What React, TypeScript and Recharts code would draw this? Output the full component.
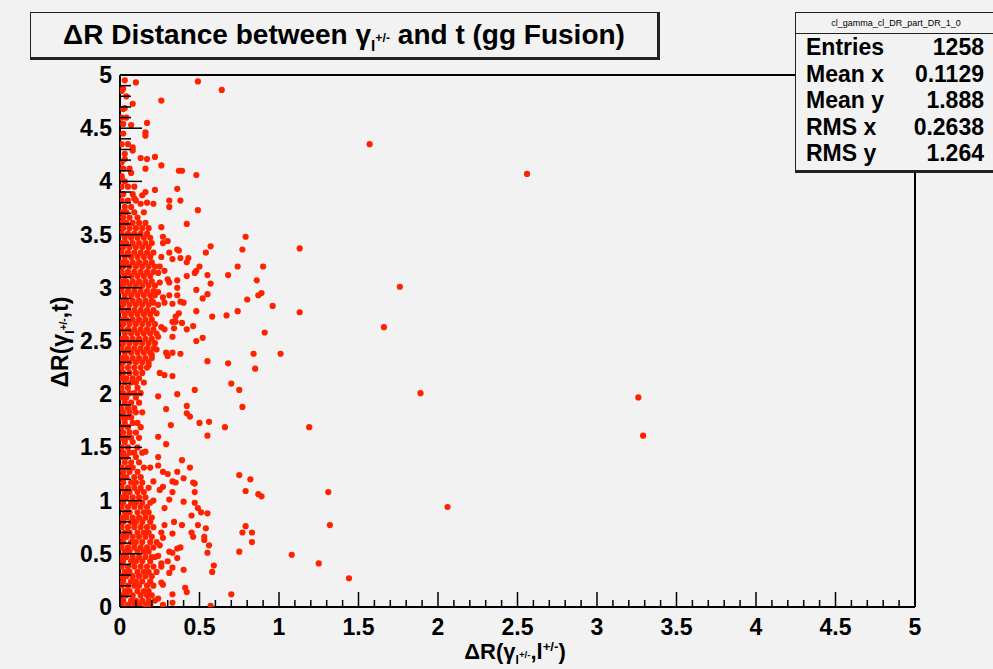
import React from 'react';
import { ScatterChart, Scatter, XAxis, YAxis, ReferenceLine } from 'recharts';

// isolated points, [dR(gamma,l), dR(gamma,t)]
const sparsePoints: number[][] = [
  [0.49, 4.94], [0.64, 4.86], [0.10, 4.93], [0.02, 4.87], [0.04, 4.80], [0.26, 4.76], [0.08, 4.73],
  [0.03, 4.69], [0.17, 4.55], [0.02, 4.54], [0.07, 4.53], [0.16, 4.46], [0.16, 4.43], [0.08, 4.32],
  [0.08, 4.29], [0.13, 4.22], [0.17, 4.21], [0.22, 4.23], [0.03, 4.21], [0.26, 4.15], [0.16, 4.12],
  [0.37, 4.10], [0.39, 4.10], [0.48, 4.06], [0.07, 4.08], [0.01, 4.04], [0.09, 3.95], [0.22, 3.92],
  [0.36, 3.93], [0.16, 3.90], [0.14, 3.87], [0.09, 3.84], [0.31, 3.82], [0.31, 3.76], [0.38, 3.82],
  [0.13, 3.79], [0.17, 3.80], [0.21, 3.79], [0.49, 3.73], [0.42, 3.60], [0.26, 3.57], [0.79, 3.48],
  [0.57, 3.39], [0.77, 3.36], [1.13, 3.37], [0.27, 3.48], [0.30, 3.44], [0.27, 3.42], [0.36, 3.36],
  [1.57, 4.35], [2.56, 4.07], [1.76, 3.01], [1.66, 2.63], [1.89, 2.01], [3.26, 1.97], [3.29, 1.61],
  [2.06, 0.94], [1.31, 1.08], [1.32, 0.77], [1.25, 0.41], [1.44, 0.27],
  [0.54, 3.33], [0.37, 3.35], [0.31, 3.33], [0.26, 3.29], [0.33, 3.27], [0.38, 3.28], [0.43, 3.28],
  [0.42, 3.24], [0.90, 3.20], [0.74, 3.20], [0.50, 3.20], [0.48, 3.16], [0.25, 3.20], [0.28, 3.16],
  [0.24, 3.14], [0.47, 3.14], [0.42, 3.11], [0.55, 3.12], [0.68, 3.12], [0.36, 3.07], [0.30, 3.08],
  [0.31, 3.05], [0.86, 3.07], [0.57, 3.04], [0.25, 3.05], [0.24, 2.96], [0.36, 3.00], [0.48, 2.98],
  [0.89, 2.95], [0.87, 2.93], [0.31, 2.93], [0.36, 2.93], [0.27, 2.91], [0.55, 2.94], [0.52, 2.90],
  [0.80, 2.89], [0.38, 2.87], [0.40, 2.86], [0.21, 2.86], [0.28, 2.86], [0.33, 2.85], [0.96, 2.83],
  [0.23, 2.76], [0.48, 2.78], [0.74, 2.78], [0.37, 2.76], [0.35, 2.73], [1.13, 2.77], [0.67, 2.74],
  [0.58, 2.73], [0.33, 2.68], [0.39, 2.67], [0.35, 2.68], [0.26, 2.63], [0.28, 2.61], [0.34, 2.62],
  [0.42, 2.61], [0.46, 2.64], [0.91, 2.58], [0.24, 2.54], [0.33, 2.54], [0.52, 2.53], [0.48, 2.50],
  [0.23, 2.42], [0.29, 2.39], [0.30, 2.36], [0.33, 2.39], [0.38, 2.38], [0.20, 2.37], [0.84, 2.38],
  [1.01, 2.38], [0.55, 2.31], [0.68, 2.29], [0.85, 2.24], [0.18, 2.27], [0.25, 2.20], [0.28, 2.18],
  [0.33, 2.17], [0.70, 2.10], [0.75, 2.04], [0.24, 1.98], [0.36, 2.00], [0.47, 2.04], [0.77, 1.88],
  [0.42, 1.89], [0.42, 1.82], [0.44, 1.79], [0.29, 1.86], [0.32, 1.71], [0.50, 1.73], [0.56, 1.74],
  [0.66, 1.69], [1.19, 1.69],
  [0.55, 1.61], [0.24, 1.60], [0.29, 1.53], [0.16, 1.46], [0.24, 1.41], [0.39, 1.38], [0.44, 1.31],
  [0.24, 1.33], [0.19, 1.31], [0.36, 1.27], [0.27, 1.27], [0.30, 1.25], [0.33, 1.18], [0.35, 1.17],
  [0.40, 1.21], [0.46, 1.17], [0.47, 1.16], [0.75, 1.24], [0.82, 1.20], [0.21, 1.18], [0.27, 1.13],
  [0.25, 1.10], [0.33, 1.08], [0.79, 1.09], [0.47, 1.08], [0.87, 1.06], [0.89, 1.04], [0.31, 1.01],
  [0.40, 0.99], [0.47, 0.98], [0.21, 1.00], [0.28, 0.93], [0.49, 0.93], [0.51, 0.89], [0.55, 0.88],
  [0.45, 0.86], [0.34, 0.80], [0.39, 0.77], [0.28, 0.77], [0.49, 0.77], [0.54, 0.74], [0.79, 0.76],
  [0.77, 0.70], [0.83, 0.70], [0.45, 0.70], [0.46, 0.66], [0.33, 0.69], [0.26, 0.70], [0.27, 0.65],
  [0.53, 0.66], [0.53, 0.63], [0.83, 0.61], [0.25, 0.58], [0.56, 0.58], [0.36, 0.55], [0.38, 0.56],
  [0.31, 0.52], [0.33, 0.51], [0.55, 0.51], [0.75, 0.52], [1.08, 0.49], [0.24, 0.48], [0.36, 0.46],
  [0.30, 0.43], [0.26, 0.41], [0.26, 0.38], [0.59, 0.39], [0.58, 0.33], [0.33, 0.37], [0.31, 0.32],
  [0.40, 0.35], [0.26, 0.23], [0.27, 0.21], [0.41, 0.18], [0.42, 0.14], [0.33, 0.12], [0.70, 0.12],
  [0.24, 0.08], [0.27, 0.02], [0.33, 0.04], [0.57, 0.01],
];

// the packed band near x = 0, one row per y value: [y, x values...]
const denseRows: number[][] = [
  [0.02, 0.01, 0.05, 0.09, 0.12, 0.16, 0.19], [0.06, 0.02, 0.07, 0.10, 0.14, 0.18, 0.22],
  [0.11, 0.01, 0.04, 0.08, 0.13, 0.17, 0.20], [0.15, 0.03, 0.06, 0.11, 0.15, 0.18],
  [0.20, 0.01, 0.05, 0.09, 0.12, 0.17, 0.21], [0.24, 0.02, 0.07, 0.10, 0.14, 0.19],
  [0.29, 0.01, 0.04, 0.08, 0.12, 0.16, 0.20], [0.33, 0.03, 0.06, 0.11, 0.15, 0.18, 0.23],
  [0.38, 0.01, 0.05, 0.09, 0.13, 0.17, 0.21], [0.43, 0.02, 0.07, 0.10, 0.14, 0.19],
  [0.47, 0.01, 0.04, 0.08, 0.12, 0.16, 0.20, 0.22], [0.52, 0.03, 0.06, 0.11, 0.15, 0.18],
  [0.56, 0.01, 0.05, 0.09, 0.13, 0.17, 0.21], [0.61, 0.02, 0.07, 0.10, 0.14, 0.19, 0.23],
  [0.66, 0.01, 0.04, 0.08, 0.12, 0.16, 0.20], [0.70, 0.03, 0.06, 0.11, 0.15, 0.18],
  [0.75, 0.01, 0.05, 0.09, 0.13, 0.17, 0.21], [0.80, 0.02, 0.07, 0.10, 0.14, 0.19],
  [0.84, 0.01, 0.04, 0.08, 0.12, 0.16, 0.20], [0.89, 0.03, 0.06, 0.11, 0.15, 0.18],
  [0.94, 0.01, 0.05, 0.09, 0.13, 0.17], [0.98, 0.02, 0.07, 0.10, 0.14, 0.19],
  [1.03, 0.01, 0.04, 0.08, 0.12, 0.16], [1.08, 0.03, 0.06, 0.11, 0.15],
  [1.12, 0.01, 0.05, 0.09, 0.13, 0.18], [1.17, 0.02, 0.07, 0.10, 0.14],
  [1.22, 0.01, 0.04, 0.09, 0.13], [1.27, 0.02, 0.06, 0.11], [1.31, 0.01, 0.05, 0.08, 0.15],
  [1.36, 0.03, 0.07, 0.12], [1.41, 0.01, 0.04, 0.10], [1.45, 0.02, 0.06, 0.09, 0.14],
  [1.50, 0.01, 0.05, 0.11], [1.55, 0.03, 0.08], [1.59, 0.01, 0.04, 0.07, 0.12],
  [1.64, 0.02, 0.06, 0.10], [1.69, 0.01, 0.05, 0.13], [1.73, 0.03, 0.08, 0.11],
  [1.78, 0.01, 0.04, 0.07], [1.83, 0.02, 0.06, 0.10, 0.14], [1.87, 0.01, 0.05, 0.09],
  [1.92, 0.03, 0.07, 0.12], [1.97, 0.01, 0.04, 0.10], [2.01, 0.02, 0.06, 0.09, 0.13],
  [2.06, 0.01, 0.05, 0.11], [2.11, 0.03, 0.07, 0.10, 0.15], [2.15, 0.01, 0.04, 0.08, 0.12],
  [2.20, 0.02, 0.06, 0.10, 0.14], [2.25, 0.01, 0.05, 0.09, 0.13, 0.17],
  [2.30, 0.02, 0.06, 0.10, 0.14, 0.18], [2.34, 0.01, 0.04, 0.08, 0.12, 0.16, 0.20],
  [2.39, 0.03, 0.07, 0.11, 0.15, 0.19], [2.43, 0.01, 0.05, 0.09, 0.13, 0.17, 0.21],
  [2.48, 0.02, 0.06, 0.10, 0.14, 0.18, 0.22], [2.52, 0.01, 0.04, 0.08, 0.12, 0.16, 0.20],
  [2.57, 0.03, 0.07, 0.11, 0.15, 0.19, 0.23], [2.61, 0.01, 0.05, 0.09, 0.13, 0.17, 0.21],
  [2.66, 0.02, 0.06, 0.10, 0.14, 0.18, 0.22], [2.70, 0.01, 0.04, 0.08, 0.12, 0.16, 0.20],
  [2.75, 0.03, 0.07, 0.11, 0.15, 0.19], [2.79, 0.01, 0.05, 0.09, 0.13, 0.17, 0.21],
  [2.84, 0.02, 0.06, 0.10, 0.14, 0.18, 0.24], [2.88, 0.01, 0.04, 0.08, 0.12, 0.16, 0.20],
  [2.93, 0.03, 0.07, 0.11, 0.15, 0.19, 0.22], [2.97, 0.01, 0.05, 0.09, 0.13, 0.17, 0.21],
  [3.02, 0.02, 0.06, 0.10, 0.14, 0.18, 0.22], [3.06, 0.01, 0.04, 0.08, 0.12, 0.16, 0.20],
  [3.11, 0.03, 0.07, 0.11, 0.15, 0.19], [3.15, 0.01, 0.05, 0.09, 0.13, 0.17, 0.21],
  [3.20, 0.02, 0.06, 0.10, 0.14, 0.18, 0.22], [3.24, 0.01, 0.04, 0.08, 0.12, 0.16, 0.20],
  [3.29, 0.03, 0.07, 0.11, 0.15, 0.19], [3.33, 0.01, 0.05, 0.09, 0.13, 0.17, 0.21],
  [3.38, 0.02, 0.06, 0.10, 0.14, 0.18], [3.42, 0.01, 0.04, 0.08, 0.12, 0.16, 0.20],
  [3.47, 0.03, 0.07, 0.11, 0.15, 0.19], [3.51, 0.01, 0.05, 0.09, 0.13, 0.17],
  [3.56, 0.02, 0.06, 0.10, 0.14, 0.18], [3.61, 0.01, 0.04, 0.08, 0.12, 0.16],
  [3.66, 0.02, 0.06, 0.11], [3.71, 0.01, 0.04, 0.09, 0.15], [3.76, 0.03, 0.07],
  [3.82, 0.01, 0.05, 0.10], [3.88, 0.02, 0.08], [3.95, 0.01, 0.05], [4.00, 0.03], [4.05, 0.01],
  [4.12, 0.02, 0.06], [4.18, 0.01], [4.26, 0.03], [4.35, 0.01, 0.05], [4.45, 0.02],
  [4.60, 0.01, 0.04], [4.68, 0.02], [4.85, 0.01], [4.95, 0.03],
];

const majorTicks = [0, 0.5, 1, 1.5, 2, 2.5, 3, 3.5, 4, 4.5, 5];
const allTicks = Array.from({ length: 51 }, (_, i) => i / 10);

const statsRows = [
  ['Entries', '1258'],
  ['Mean x', '0.1129'],
  ['Mean y', '1.888'],
  ['RMS x', '0.2638'],
  ['RMS y', '1.264'],
];

const points = [
  ...sparsePoints.map(([x, y]) => ({ x, y })),
  ...denseRows.flatMap(([y, ...xs]) => xs.map((x) => ({ x, y }))),
];

const FONT = '"Liberation Sans", Arial, sans-serif';
const isMajor = (v: number) => majorTicks.some((m) => Math.abs(m - v) < 1e-6);
const fmt = (v: number) => String(Number(v.toFixed(1)));

const XTick = (props: any) => {
  const { x, y, payload } = props;
  const major = isMajor(payload.value);
  return (
    <g>
      <line x1={x} x2={x} y1={y} y2={y - (major ? 15 : 7)} stroke="#000" strokeWidth={1.5} />
      {major && (
        <text x={x} y={y + 28} textAnchor="middle" fontFamily={FONT} fontWeight="bold" fontSize={23} fill="#000">
          {fmt(payload.value)}
        </text>
      )}
    </g>
  );
};

const YTick = (props: any) => {
  const { x, y, payload } = props;
  const major = isMajor(payload.value);
  return (
    <g>
      <line x1={x} x2={x + (major ? 22 : 11)} y1={y} y2={y} stroke="#000" strokeWidth={1.5} />
      {major && (
        <text x={x - 8} y={y + 8} textAnchor="end" fontFamily={FONT} fontWeight="bold" fontSize={23} fill="#000">
          {fmt(payload.value)}
        </text>
      )}
    </g>
  );
};

const Dot = (p: any) => <circle cx={p.cx} cy={p.cy} r={3.1} fill="#ff2200" />;

const subStyle: React.CSSProperties = { fontSize: '0.55em', position: 'relative', top: '0.45em' };
const supStyle: React.CSSProperties = { fontSize: '0.8em', position: 'relative', top: '-0.7em' };

export default function App() {
  return (
    <div style={{ position: 'absolute', left: 0, top: 0, width: 993, height: 669, background: '#f2f2f2', fontFamily: FONT, overflow: 'hidden' }}>
      <ScatterChart width={993} height={669} margin={{ top: 75, right: 78, bottom: 22, left: 60 }}>
        <XAxis
          type="number"
          dataKey="x"
          domain={[0, 5]}
          ticks={allTicks}
          interval={0}
          tick={<XTick />}
          tickLine={false}
          tickSize={0}
          tickMargin={0}
          height={40}
          axisLine={{ stroke: '#000', strokeWidth: 2 }}
          allowDataOverflow
        />
        <YAxis
          type="number"
          dataKey="y"
          domain={[0, 5]}
          ticks={allTicks}
          interval={0}
          tick={<YTick />}
          tickLine={false}
          tickSize={0}
          tickMargin={0}
          width={60}
          axisLine={{ stroke: '#000', strokeWidth: 2 }}
          allowDataOverflow
        />
        <ReferenceLine y={5} stroke="#000" strokeWidth={2} />
        <ReferenceLine x={5} stroke="#000" strokeWidth={2} />
        <Scatter data={points} shape={Dot} isAnimationActive={false} />
      </ScatterChart>

      {/* title box */}
      <div style={{ position: 'absolute', left: 30, top: 12, width: 626, height: 44, border: '1px solid #222', borderRightWidth: 3, borderBottomWidth: 3, background: '#f2f2f2', display: 'flex', alignItems: 'center', justifyContent: 'center', fontWeight: 'bold', fontSize: 28, color: '#000', whiteSpace: 'nowrap' }}>
        <span>
          ΔR Distance between γ
          <span style={subStyle}>
            l<span style={supStyle}>+/-</span>
          </span>{' '}
          and t (gg Fusion)
        </span>
      </div>

      {/* stats box */}
      <div style={{ position: 'absolute', left: 795, top: 12, width: 200, height: 157, border: '1px solid #222', borderBottomWidth: 3, background: '#f2f2f2', color: '#000' }}>
        <div style={{ height: 20, borderBottom: '1px solid #222', fontSize: 9, textAlign: 'center', lineHeight: '20px' }}>
          cl_gamma_cl_DR_part_DR_1_0
        </div>
        {statsRows.map(([k, v]) => (
          <div key={k} style={{ display: 'flex', justifyContent: 'space-between', padding: '0 12px 0 10px', height: 26.5, lineHeight: '26.5px', fontWeight: 'bold', fontSize: 23 }}>
            <span>{k}</span>
            <span>{v}</span>
          </div>
        ))}
      </div>

      {/* axis titles */}
      <div style={{ position: 'absolute', left: 515, top: 654, transform: 'translate(-50%, -50%)', fontWeight: 'bold', fontSize: 22, lineHeight: '22px', whiteSpace: 'nowrap' }}>
        ΔR(γ<span style={subStyle}>l<span style={supStyle}>+/-</span></span>,l<span style={{ fontSize: '0.6em', position: 'relative', top: '-0.6em' }}>+/-</span>)
      </div>
      <div style={{ position: 'absolute', left: 60, top: 342, transform: 'translate(-50%, -50%) rotate(-90deg)', fontWeight: 'bold', fontSize: 23, whiteSpace: 'nowrap' }}>
        ΔR(γ<span style={subStyle}>l<span style={supStyle}>+/-</span></span>,t)
      </div>
    </div>
  );
}
